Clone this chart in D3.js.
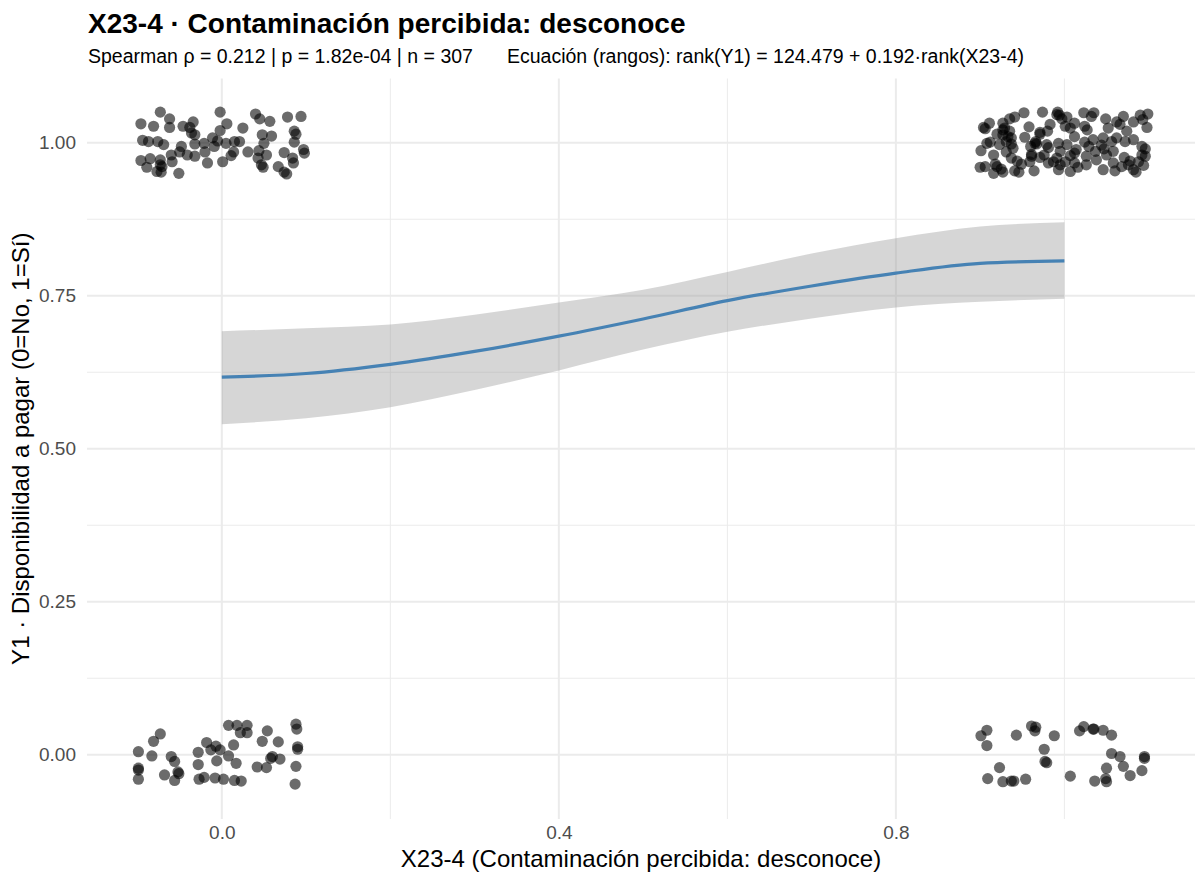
<!DOCTYPE html>
<html>
  <head>
    <meta charset="utf-8">
    <title>X23-4 scatter</title>
    <script src="https://cdn.jsdelivr.net/npm/d3@7"></script>
    <style>
      body, html {
        margin: 0;
        padding: 0;
        background: #fff;
      }
      text {
        font-family: "Liberation Sans", Arial, sans-serif;
      }
    </style>
  </head>
  <body>
    <svg id="svg" width="1195" height="872"></svg>
    <script>
      // jittered points, [x, y]
      const pointsX0Y1 = [
        [-0.073,1.050],[-0.002,1.050],[0.040,1.047],[0.078,1.042],[0.094,1.043],[-0.062,1.039],
        [0.045,1.039],[0.057,1.035],[-0.096,1.031],[-0.081,1.027],[-0.062,1.025],[-0.046,1.027],
        [-0.034,1.034],[-0.038,1.025],[0.006,1.031],[0.025,1.024],[-0.002,1.020],[-0.036,1.016],
        [-0.032,1.013],[0.086,1.019],[0.088,1.014],[0.048,1.013],[0.059,1.011],[-0.094,1.004],
        [-0.087,1.002],[-0.076,1.002],[-0.069,0.997],[-0.048,0.994],[-0.032,0.998],[-0.021,0.999],
        [-0.011,1.008],[-0.005,1.003],[-0.009,0.994],[0.005,0.999],[0.015,1.002],[0.021,1.002],
        [0.050,0.999],[0.086,1.001],[0.097,0.989],[0.098,0.983],[-0.050,0.985],[-0.041,0.980],
        [-0.032,0.978],[-0.020,0.985],[0.014,0.985],[0.011,0.979],[0.031,0.985],[0.044,0.987],
        [0.043,0.975],[0.053,0.980],[0.074,0.984],[0.084,0.975],[-0.096,0.971],[-0.085,0.974],
        [-0.073,0.972],[-0.073,0.964],[-0.071,0.961],[-0.059,0.969],[-0.060,0.980],[-0.089,0.960],
        [-0.077,0.953],[-0.072,0.952],[-0.051,0.950],[-0.017,0.967],[0.001,0.969],[0.047,0.964],
        [0.049,0.960],[0.067,0.961],[0.074,0.952],[0.077,0.949],[0.085,0.967]
      ];
      const pointsX0Y0 = [
        [-0.073,0.034],[-0.081,0.022],[-0.099,0.005],[-0.083,-0.002],[-0.060,-0.003],[-0.056,-0.011],
        [-0.099,-0.022],[-0.099,-0.025],[-0.099,-0.040],[-0.068,-0.033],[-0.052,-0.028],[-0.051,-0.031],
        [-0.056,-0.042],[-0.028,0.004],[-0.028,-0.016],[-0.027,-0.040],[-0.021,-0.037],[-0.018,0.020],
        [-0.013,0.008],[-0.007,0.014],[-0.002,0.008],[-0.006,-0.010],[-0.008,-0.038],[0.002,-0.040],
        [0.008,0.048],[0.018,0.048],[0.022,0.036],[0.030,0.048],[0.030,0.036],[0.014,0.016],
        [0.008,-0.002],[0.017,-0.014],[0.015,-0.042],[0.023,-0.043],[0.054,0.039],[0.048,0.022],
        [0.067,0.021],[0.042,-0.020],[0.053,-0.021],[0.058,-0.006],[0.060,-0.003],[0.069,-0.007],
        [0.088,0.050],[0.089,0.042],[0.090,0.013],[0.090,0.009],[0.088,-0.019],[0.087,-0.048]
      ];
      const pointsX1Y1 = [
        [0.952,1.049],[0.974,1.050],[0.992,1.050],[0.994,1.045],[1.003,1.042],[1.023,1.049],
        [1.035,1.049],[1.032,1.043],[1.049,1.039],[1.070,1.043],[1.090,1.045],[1.099,1.047],
        [0.941,1.042],[0.935,1.039],[0.911,1.032],[0.904,1.025],[0.906,1.023],[0.927,1.032],
        [0.929,1.024],[0.935,1.019],[0.958,1.026],[0.983,1.030],[0.997,1.039],[1.001,1.027],
        [1.007,1.024],[1.012,1.032],[1.024,1.027],[1.027,1.021],[1.062,1.034],[1.066,1.030],
        [1.074,1.019],[1.082,1.034],[1.093,1.038],[1.098,1.025],[0.971,1.017],[0.971,1.014],
        [0.980,1.019],[0.920,1.014],[0.927,1.013],[0.933,1.010],[0.937,1.008],[0.912,1.001],
        [0.908,0.999],[0.923,0.997],[0.953,1.009],[0.965,0.999],[0.967,0.998],[0.960,0.994],
        [0.979,0.997],[0.981,0.992],[0.993,0.999],[1.003,0.997],[1.012,1.010],[1.024,1.001],
        [1.034,1.005],[1.046,1.008],[1.056,1.002],[1.062,1.008],[1.072,1.002],[1.082,1.005],
        [1.092,0.994],[1.096,0.990],[1.047,0.990],[1.037,0.986],[1.050,0.980],[1.058,0.986],
        [1.029,0.994],[1.014,0.989],[1.012,0.983],[1.007,0.979],[0.995,0.986],[0.991,0.975],
        [1.001,0.969],[0.976,0.980],[0.971,0.976],[0.961,0.978],[0.959,0.969],[0.961,0.981],
        [0.931,0.985],[0.937,0.975],[0.916,0.980],[0.901,0.987],[0.918,0.965],[0.920,0.961],
        [0.925,0.957],[0.916,0.950],[0.927,0.952],[0.906,0.961],[0.900,0.960],[0.949,0.965],
        [0.941,0.954],[0.946,0.952],[0.964,0.954],[0.981,0.967],[0.987,0.969],[0.995,0.964],
        [0.993,0.956],[1.007,0.953],[1.012,0.967],[1.016,0.960],[1.026,0.964],[1.026,0.978],
        [1.038,0.972],[1.046,0.956],[1.058,0.967],[1.060,0.954],[1.071,0.976],[1.076,0.964],
        [1.082,0.956],[1.085,0.952],[1.088,0.969],[1.094,0.963],[1.092,0.980],[1.096,0.978],
        [1.068,0.961],[1.078,0.970],[1.044,0.996],[0.937,0.998],[0.931,1.002],[0.939,0.991],
        [0.991,1.046],[0.927,1.021],[0.966,1.002],[1.052,1.024],[0.944,0.970]
      ];
      const pointsX1Y0 = [
        [0.908,0.040],[0.901,0.031],[0.908,0.015],[0.943,0.032],[0.961,0.047],[0.966,0.045],
        [0.965,0.039],[0.988,0.031],[0.976,0.009],[0.977,-0.011],[0.979,-0.013],[0.923,-0.021],
        [0.909,-0.039],[0.927,-0.044],[0.937,-0.043],[0.940,-0.043],[0.954,-0.040],[1.007,-0.035],
        [1.018,0.039],[1.023,0.046],[1.034,0.042],[1.035,0.042],[1.046,0.040],[1.056,0.032],
        [1.056,0.002],[1.066,-0.003],[1.095,-0.003],[1.095,-0.006],[1.050,-0.022],[1.070,-0.019],
        [1.078,-0.034],[1.092,-0.026],[1.036,-0.043],[1.049,-0.039],[1.050,-0.044]
      ];

      // smoother (fit and confidence band)
      const smoothX = [0, 0.1, 0.2, 0.3, 0.4, 0.5, 0.6, 0.7, 0.8, 0.9, 1.0];
      const smoothFit = [0.617, 0.623, 0.638, 0.659, 0.684, 0.712, 0.742, 0.766, 0.787, 0.803, 0.807];
      const smoothLow = [0.540, 0.550, 0.568, 0.596, 0.628, 0.662, 0.691, 0.713, 0.731, 0.740, 0.745];
      const smoothHigh = [0.692, 0.697, 0.703, 0.719, 0.739, 0.760, 0.789, 0.819, 0.844, 0.863, 0.870];

      const xTicks = [0, 0.4, 0.8];
      const xMinor = [0.2, 0.6, 1.0];
      const yTicks = [0, 0.25, 0.5, 0.75, 1];
      const yMinor = [0.125, 0.375, 0.625, 0.875];

      const titleText = "X23-4 · Contaminación percibida: desconoce";
      const subtitleLeft = "Spearman ρ = 0.212 | p = 1.82e-04 | n = 307";
      const subtitleRight = "Ecuación (rangos): rank(Y1) = 124.479 + 0.192·rank(X23-4)";
      const xLabel = "X23-4 (Contaminación percibida: desconoce)";
      const yLabel = "Y1 · Disponibilidad a pagar (0=No, 1=Sí)";

      const panel = { left: 87, right: 1195, top: 78.5, bottom: 819 };

      const xscale = d3.scaleLinear()
        .domain([-0.16, 1.155])
        .range([panel.left, panel.right]);
      const yscale = d3.scaleLinear()
        .domain([-0.105, 1.105])
        .range([panel.bottom, panel.top]);

      const svg = d3.select('#svg');

      // grid
      const grid = svg.append('g');
      grid.selectAll('.ymin').data(yMinor).join('line')
        .attr('x1', panel.left).attr('x2', panel.right)
        .attr('y1', d => yscale(d)).attr('y2', d => yscale(d))
        .attr('stroke', '#EBEBEB').attr('stroke-width', 1);
      grid.selectAll('.xmin').data(xMinor).join('line')
        .attr('y1', panel.top).attr('y2', panel.bottom)
        .attr('x1', d => xscale(d)).attr('x2', d => xscale(d))
        .attr('stroke', '#EBEBEB').attr('stroke-width', 1);
      grid.selectAll('.ymaj').data(yTicks).join('line')
        .attr('x1', panel.left).attr('x2', panel.right)
        .attr('y1', d => yscale(d)).attr('y2', d => yscale(d))
        .attr('stroke', '#EBEBEB').attr('stroke-width', 2);
      grid.selectAll('.xmaj').data(xTicks).join('line')
        .attr('y1', panel.top).attr('y2', panel.bottom)
        .attr('x1', d => xscale(d)).attr('x2', d => xscale(d))
        .attr('stroke', '#EBEBEB').attr('stroke-width', 2);

      // points
      const allPoints = pointsX0Y1.concat(pointsX0Y0, pointsX1Y1, pointsX1Y0);
      svg.append('g')
        .selectAll('circle')
        .data(allPoints)
        .join('circle')
        .attr('cx', d => xscale(d[0]))
        .attr('cy', d => yscale(d[1]))
        .attr('r', 5.6)
        .attr('fill', 'black')
        .attr('fill-opacity', 0.58);

      // smoother
      const smooth = smoothX.map((x, i) => ({ x: x, fit: smoothFit[i], lo: smoothLow[i], hi: smoothHigh[i] }));
      const band = d3.area()
        .x(d => xscale(d.x))
        .y0(d => yscale(d.lo))
        .y1(d => yscale(d.hi))
        .curve(d3.curveMonotoneX);
      const linegen = d3.line()
        .x(d => xscale(d.x))
        .y(d => yscale(d.fit))
        .curve(d3.curveMonotoneX);

      svg.append('path')
        .attr('d', band(smooth))
        .attr('fill', '#999999')
        .attr('fill-opacity', 0.4);
      svg.append('path')
        .attr('d', linegen(smooth))
        .attr('fill', 'none')
        .attr('stroke', '#4682B4')
        .attr('stroke-width', 3.2);

      // axes (tick labels only, like theme_minimal)
      const leftAxis = d3.axisLeft(yscale).tickValues(yTicks).tickFormat(d3.format('.2f')).tickSize(0).tickPadding(11);
      const bottomAxis = d3.axisBottom(xscale).tickValues(xTicks).tickFormat(d3.format('.1f')).tickSize(0).tickPadding(7);

      const ya = svg.append('g')
        .attr('transform', `translate(${panel.left}, 0)`)
        .call(leftAxis);
      const xa = svg.append('g')
        .attr('transform', `translate(0, ${panel.bottom})`)
        .call(bottomAxis);
      [ya, xa].forEach(a => {
        a.select('.domain').remove();
        a.selectAll('text')
          .attr('fill', '#4D4D4D')
          .style('font-size', '19px')
          .style('font-family', '"Liberation Sans", Arial, sans-serif');
      });

      // titles
      svg.append('text')
        .attr('x', 88).attr('y', 33)
        .attr('font-size', 28).attr('font-weight', 'bold')
        .attr('fill', 'black')
        .text(titleText);
      svg.append('text')
        .attr('x', 88).attr('y', 63)
        .attr('font-size', 19.5)
        .attr('fill', 'black')
        .text(subtitleLeft);
      svg.append('text')
        .attr('x', 507).attr('y', 63)
        .attr('font-size', 19.5)
        .attr('fill', 'black')
        .text(subtitleRight);
      svg.append('text')
        .attr('x', (panel.left + panel.right) / 2).attr('y', 867)
        .attr('text-anchor', 'middle')
        .attr('font-size', 24)
        .attr('fill', 'black')
        .text(xLabel);
      svg.append('text')
        .attr('transform', `translate(29, ${(panel.top + panel.bottom) / 2}) rotate(-90)`)
        .attr('text-anchor', 'middle')
        .attr('font-size', 24)
        .attr('fill', 'black')
        .text(yLabel);
    </script>
  </body>
</html>
